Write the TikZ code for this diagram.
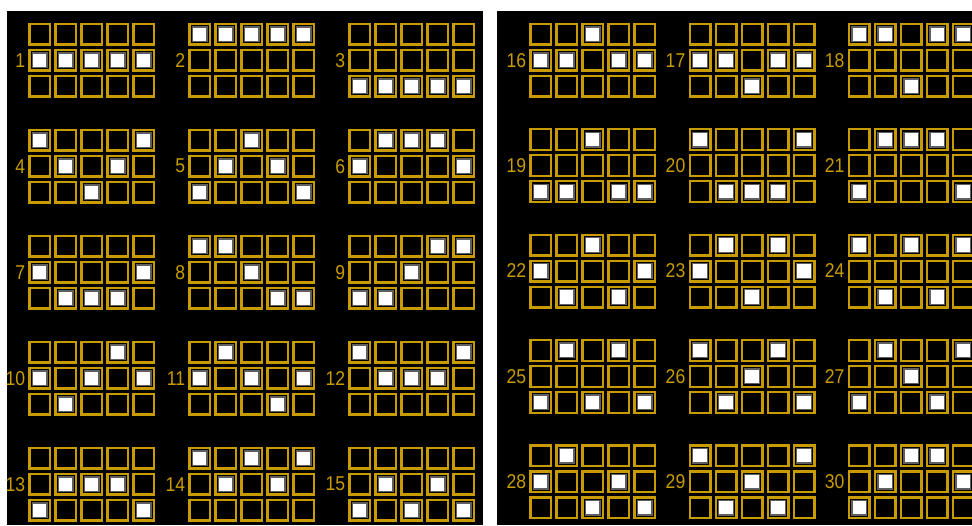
\documentclass[tikz,border=0pt]{standalone}
\usepackage{fontspec}
\setmainfont[FakeStretch=0.88]{Liberation Sans}
\definecolor{gold}{RGB}{200,156,0}
\definecolor{ringgray}{RGB}{95,95,95}
\tikzset{
  cellbox/.style={draw=gold, line width=2.3pt, minimum size=20.7pt, inner sep=0pt, outer sep=0pt, fill=black},
  litbox/.style={draw=ringgray, fill=white, line width=1.3pt, minimum size=14.6pt, inner sep=0pt, outer sep=0pt},
  numlabel/.style={text=gold, anchor=east, inner sep=0pt, font=\fontsize{20}{20}\selectfont},
}
\newcommand\drawpat[4]{%
  \foreach \r in {1,2,3}{\foreach \c in {1,...,5}{%
    \node[cellbox] (p#1-\r-\c) at ({#2+11.5+26*(\c-1)},{#3+11.5+26*(\r-1)}) {};}}
  \foreach \r/\c in {#4}{\node[litbox] (w#1-\r-\c) at (p#1-\r-\c) {};}
  \node[numlabel] (l#1) at ({#2-3},{#3+37.5}) {#1};
}
\begin{document}
\begin{tikzpicture}[x=1pt,y=-1pt]
\useasboundingbox (0,0) rectangle (972,525);
\clip (0,0) rectangle (972,525);
\fill[white] (0,0) rectangle (972,525);
\fill[black] (7,11) rectangle (483,525);
\fill[black] (497,11) rectangle (972,525);
% left panel
\drawpat{1}{28.3}{22.7}{2/1,2/2,2/3,2/4,2/5}
\drawpat{2}{188.3}{22.7}{1/1,1/2,1/3,1/4,1/5}
\drawpat{3}{348.3}{22.7}{3/1,3/2,3/3,3/4,3/5}
\drawpat{4}{28.3}{128.7}{1/1,1/5,2/2,2/4,3/3}
\drawpat{5}{188.3}{128.7}{1/3,2/2,2/4,3/1,3/5}
\drawpat{6}{348.3}{128.7}{1/2,1/3,1/4,2/1,2/5}
\drawpat{7}{28.3}{234.7}{2/1,2/5,3/2,3/3,3/4}
\drawpat{8}{188.3}{234.7}{1/1,1/2,2/3,3/4,3/5}
\drawpat{9}{348.3}{234.7}{1/4,1/5,2/3,3/1,3/2}
\drawpat{10}{28.3}{340.7}{1/4,2/1,2/3,2/5,3/2}
\drawpat{11}{188.3}{340.7}{1/2,2/1,2/3,2/5,3/4}
\drawpat{12}{348.3}{340.7}{1/1,1/5,2/2,2/3,2/4}
\drawpat{13}{28.3}{446.7}{2/2,2/3,2/4,3/1,3/5}
\drawpat{14}{188.3}{446.7}{1/1,1/3,1/5,2/2,2/4}
\drawpat{15}{348.3}{446.7}{2/2,2/4,3/1,3/3,3/5}
% right panel
\drawpat{16}{529.3}{22.7}{1/3,2/1,2/2,2/4,2/5}
\drawpat{17}{688.5}{22.7}{2/1,2/2,2/4,2/5,3/3}
\drawpat{18}{847.7}{22.7}{1/1,1/2,1/4,1/5,3/3}
\drawpat{19}{529.3}{128.1}{1/3,3/1,3/2,3/4,3/5}
\drawpat{20}{688.5}{128.1}{1/1,1/5,3/2,3/3,3/4}
\drawpat{21}{847.7}{128.1}{1/2,1/3,1/4,3/1,3/5}
\drawpat{22}{529.3}{233.5}{1/3,2/1,2/5,3/2,3/4}
\drawpat{23}{688.5}{233.5}{1/2,1/4,2/1,2/5,3/3}
\drawpat{24}{847.7}{233.5}{1/1,1/3,1/5,3/2,3/4}
\drawpat{25}{529.3}{338.9}{1/2,1/4,3/1,3/3,3/5}
\drawpat{26}{688.5}{338.9}{1/1,1/4,2/3,3/2,3/5}
\drawpat{27}{847.7}{338.9}{1/2,1/5,2/3,3/1,3/4}
\drawpat{28}{529.3}{444.3}{1/2,2/1,2/4,3/3,3/5}
\drawpat{29}{688.5}{444.3}{1/1,1/5,2/3,3/2,3/4}
\drawpat{30}{847.7}{444.3}{1/3,1/4,2/2,2/5,3/1}
\end{tikzpicture}
\end{document}
